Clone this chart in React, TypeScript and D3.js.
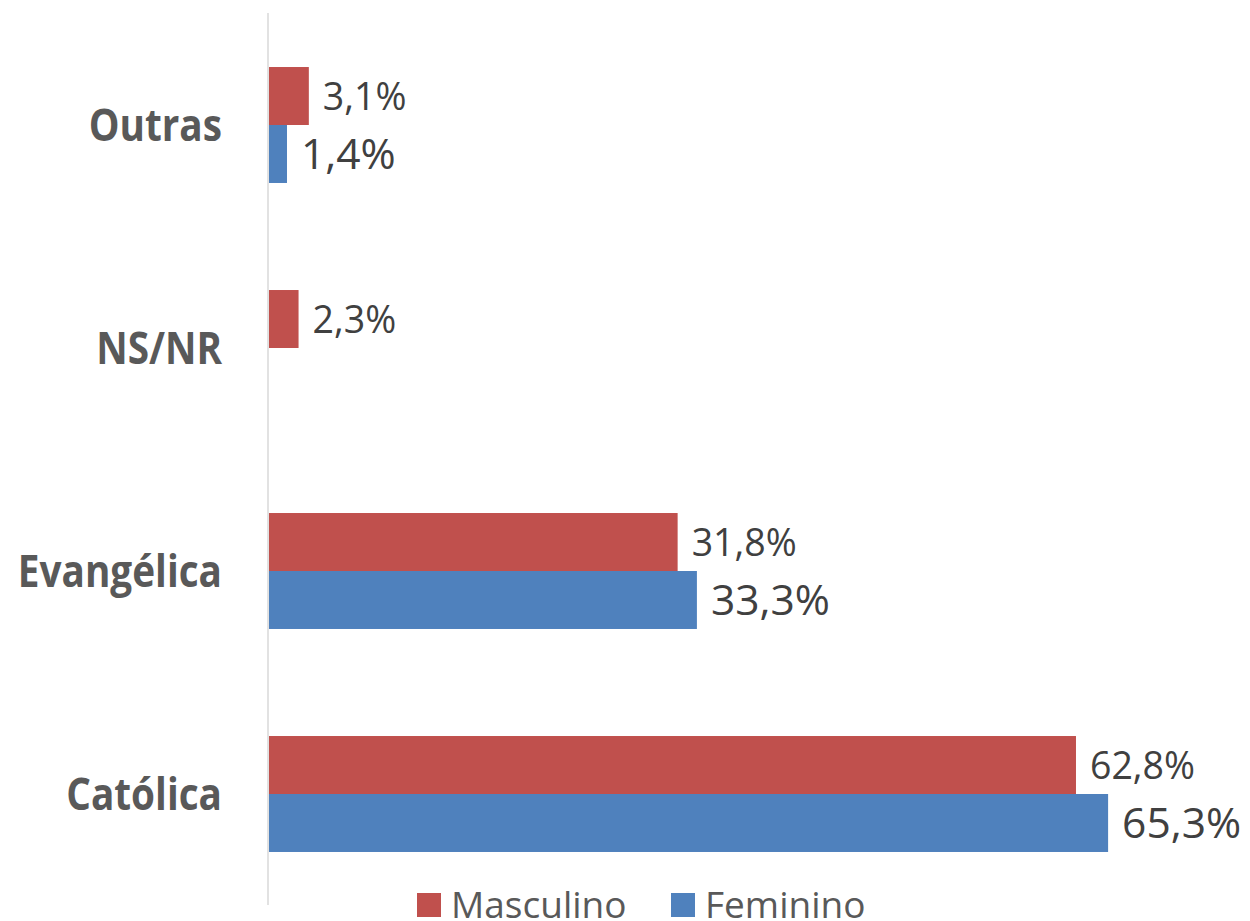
import React from "react";
import * as d3 from "d3";

const categories = ["Outras", "NS/NR", "Evangélica", "Católica"];
const masculino: (number | null)[] = [3.1, 2.3, 31.8, 62.8];
const feminino: (number | null)[] = [1.4, null, 33.3, 65.3];
const seriesNames = ["Masculino", "Feminino"];
const seriesColors = ["#C0504D", "#4F81BD"];

const W = 1250;
const H = 921;
const FONT = "'Open Sans', 'Noto Sans', sans-serif";

export default function App() {
  const x = d3.scaleLinear().domain([0, 70]).range([269, 269 + 70 * 12.85]);
  const y = d3
    .scaleBand<string>()
    .domain(categories)
    .range([13.5, 905.5])
    .paddingInner(0.48)
    .paddingOuter(0.24);
  const inner = d3
    .scaleBand<string>()
    .domain(seriesNames)
    .range([0, y.bandwidth()]);
  const series = [masculino, feminino];
  const labelSizes = [37.5, 42.5];
  const fmt = (v: number) => v.toFixed(1).replace(".", ",") + "%";

  return (
    <svg
      width={W}
      height={H}
      style={{ position: "absolute", left: 0, top: 0, background: "#fff" }}
      fontFamily={FONT}
    >
      <rect x={0} y={0} width={W} height={H} fill="#fff" />
      {series.map((vals, si) =>
        categories.map((c, ci) => {
          const v = vals[ci];
          if (v == null) return null;
          const y0 = (y(c) as number) + (inner(seriesNames[si]) as number);
          const bh = inner.bandwidth();
          const cy = y0 + bh / 2;
          const fs = labelSizes[si];
          return (
            <g key={`${si}-${ci}`}>
              <rect
                x={x(0)}
                y={y0}
                width={x(v) - x(0)}
                height={bh}
                fill={seriesColors[si]}
              />
              <text
                x={x(v) + 14}
                y={cy + fs * 0.36}
                fontSize={fs}
                fill="#404040"
              >
                {fmt(v)}
              </text>
            </g>
          );
        })
      )}
      <line x1={268} x2={268} y1={13} y2={905} stroke="#D9D9D9" strokeWidth={1.5} />
      {categories.map((c) => (
        <text
          key={c}
          x={222}
          y={(y(c) as number) + y.bandwidth() / 2 + 16}
          fontSize={44}
          fontWeight="bold"
          fill="#595959"
          textAnchor="end"
          transform={`translate(222,0) scale(0.88,1) translate(-222,0)`}
        >
          {c}
        </text>
      ))}
      {seriesNames.map((s, i) => {
        const lx = [417, 671][i];
        return (
          <g key={s}>
            <rect x={lx} y={893} width={24} height={24} fill={seriesColors[i]} />
            <text x={lx + 34} y={918} fontSize={37} fill="#595959">
              {s}
            </text>
          </g>
        );
      })}
    </svg>
  );
}
